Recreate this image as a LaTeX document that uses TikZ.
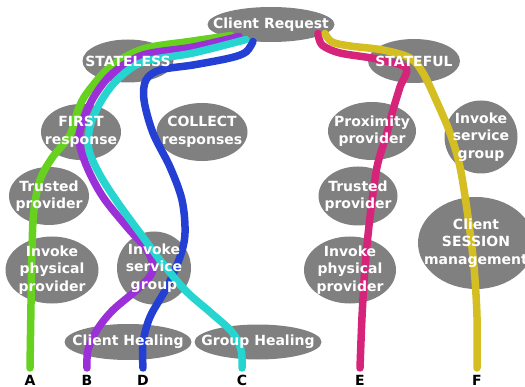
\documentclass[tikz,border=0pt]{standalone}
\usepackage{fontspec}
\setmainfont{DejaVu Sans}
\usetikzlibrary{shapes.geometric}
\definecolor{bubblegray}{HTML}{808080}
\definecolor{routeA}{HTML}{66D11F}
\definecolor{routeB}{HTML}{9B2FD8}
\definecolor{routeC}{HTML}{26D4D0}
\definecolor{routeD}{HTML}{2440D4}
\definecolor{routeE}{HTML}{D6247A}
\definecolor{routeF}{HTML}{D4BE22}

\begin{document}
\begin{tikzpicture}[
  x=1pt,
  y=1pt,
  bubble/.style={
    ellipse,
    fill=bubblegray,
    inner sep=0pt
  },
  caption/.style={
    text=white,
    align=center,
    inner sep=0pt,
    font=\bfseries\fontsize{14}{17.5}\selectfont
  },
  letter/.style={
    anchor=north,
    inner xsep=0pt,
    inner ysep=7pt,
    font=\bfseries\fontsize{14}{16}\selectfont
  },
  route/.style={
    line width=7.5pt,
    line cap=round,
    line join=round
  }
]
  \useasboundingbox (0,0) rectangle (525,386);

  % bubbles
  \node[bubble,minimum width=127,minimum height=35] (req) at (271,361.5) {};
  \node[bubble,minimum width=91,minimum height=43] (stateless) at (128,325) {};
  \node[bubble,minimum width=92,minimum height=44] (stateful) at (414,325) {};
  \node[bubble,minimum width=80,minimum height=56] (first) at (81,254) {};
  \node[bubble,minimum width=91,minimum height=58] (collect) at (202,254) {};
  \node[bubble,minimum width=80,minimum height=58] (trustL) at (49,190) {};
  \node[bubble,minimum width=93,minimum height=67] (physL) at (52,116) {};
  \node[bubble,minimum width=74,minimum height=73] (groupL) at (154,118) {};
  \node[bubble,minimum width=127,minimum height=36] (chealing) at (128,44) {};
  \node[bubble,minimum width=127,minimum height=35] (ghealing) at (258,44) {};
  \node[bubble,minimum width=88,minimum height=58] (prox) at (372,255) {};
  \node[bubble,minimum width=73,minimum height=73] (groupR) at (481,249) {};
  \node[bubble,minimum width=79,minimum height=59] (trustR) at (358,190) {};
  \node[bubble,minimum width=116,minimum height=92] (session) at (476,143) {};
  \node[bubble,minimum width=92,minimum height=67] (physR) at (350,116) {};

  % end letters
  \foreach \l/\x in {A/30,B/87,D/143,C/242,E/360,F/477}
    \node[letter] (\l) at (\x,18) {\l};

  % routes
  \draw[route,draw=routeA] plot[smooth,tension=0.55] coordinates {
    ([xshift=-40pt,yshift=-11pt]req.center) (193,345) (143,337) (110,319)
    (87,293) (78,276) (70,251) (52,228) (40,206) (34,176) (32,136) (A.north)};
  \draw[route,draw=routeB] plot[smooth,tension=0.55] coordinates {
    ([xshift=-32pt,yshift=-12pt]req.center) (193,339) (143,331) (113,313)
    (95,291) (84,268) (79,246) (87,219) (103,189) (127,159) (147,136)
    (153,116) (140,99) (113,76) (97,56) (88,36) (B.north)};
  \draw[route,draw=routeD] plot[smooth,tension=0.55] coordinates {
    ([xshift=-18pt,yshift=-17pt]req.center) (246,334) (230,328) (193,321)
    (160,316) (146,306) (144,286) (153,253) (170,219) (182,186) (185,153)
    (180,129) (167,99) (150,69) (143,43) (D.north)};
  \draw[route,draw=routeC] plot[smooth,tension=0.55] coordinates {
    ([xshift=-25pt,yshift=-15pt]req.center) (193,333) (143,324) (117,306)
    (100,283) (90,259) (89,236) (100,211) (118,183) (140,153) (160,126)
    (185,96) (210,74) (232,54) (241,36) (C.north)};
  \draw[route,draw=routeE] plot[smooth,tension=0.5] coordinates {
    ([xshift=47pt,yshift=-9pt]req.center) (322,341) (340,333) (377,327)
    (406,318) (400,299) (393,276) (387,253) (377,219) (370,169) (365,119)
    (362,69) (E.north)};
  \draw[route,draw=routeF] plot[smooth,tension=0.55] coordinates {
    ([xshift=54pt,yshift=-9pt]req.center) (332,344) (350,340) (383,336)
    (410,328) (423,313) (436,286) (450,253) (460,219) (468,169) (474,119)
    (477,69) (F.north)};

  % captions on top
  \foreach \n/\t in {
    req/{Client Request},
    stateless/{STATELESS},
    stateful/{STATEFUL},
    first/{FIRST\\response},
    collect/{COLLECT\\responses},
    trustL/{Trusted\\provider},
    physL/{Invoke\\physical\\provider},
    groupL/{Invoke\\service\\group},
    chealing/{Client Healing},
    ghealing/{Group Healing},
    prox/{Proximity\\provider},
    groupR/{Invoke\\service\\group},
    trustR/{Trusted\\provider},
    session/{Client\\SESSION\\management},
    physR/{Invoke\\physical\\provider}}
    \node[caption] at (\n) {\t};
\end{tikzpicture}
\end{document}
